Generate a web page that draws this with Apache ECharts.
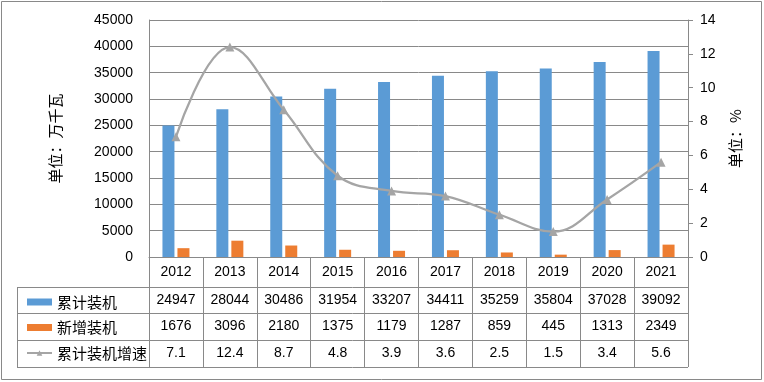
<!DOCTYPE html>
<html><head><meta charset="utf-8">
<script src="https://cdn.jsdelivr.net/npm/echarts@6/dist/echarts.min.js"></script>
<style>html,body{margin:0;padding:0;background:#fff}#c{width:764px;height:382px}</style>
</head><body><div id="c"></div>
<script>
const years = ['2012','2013','2014','2015','2016','2017','2018','2019','2020','2021'];
const cumulative = [24947,28044,30486,31954,33207,34411,35259,35804,37028,39092];
const added = [1676,3096,2180,1375,1179,1287,859,445,1313,2349];
const growth = [7.1,12.4,8.7,4.8,3.9,3.6,2.5,1.5,3.4,5.6];
const seriesNames = ['累计装机','新增装机','累计装机增速'];
const leftTicks = {min:0,max:45000,interval:5000};
const rightTicks = {min:0,max:14,interval:2};

const GRID = {left:149, right:76, top:20, bottom:125};
const numFont = 'Liberation Sans, Arial, sans-serif';
const cjkFont = 'Noto Sans CJK SC, sans-serif';
const lineCol = '#898989';
const rows = [30, 56, 83, 110]; // offsets of table row lines below x axis

function valueAxis(offset, arr){
  return {type:'category', data:years, position:'bottom', offset:offset, gridIndex:0,
    axisLine:{show:false}, axisTick:{show:false}, splitLine:{show:false},
    axisLabel:{show:true, margin:6, color:'#000', fontSize:14, fontFamily:numFont,
      formatter:(v,i)=>String(arr[i])}};
}

const chart = echarts.init(document.getElementById('c'), null, {renderer:'canvas'});
const H = 382, axisY = H - GRID.bottom, tableLeft = 17, tableRight = 764 - GRID.right;
const graphics = [{type:'rect', shape:{x:1.5,y:1.5,width:760,height:378}, style:{fill:'none', stroke:lineCol, lineWidth:1}}];
rows.forEach(o=>graphics.push({type:'line', shape:{x1:tableLeft,y1:axisY+o+0.5,x2:tableRight,y2:axisY+o+0.5}, style:{stroke:lineCol,lineWidth:1}}));
graphics.push({type:'line', shape:{x1:tableLeft+0.5,y1:axisY+rows[0],x2:tableLeft+0.5,y2:axisY+rows[3]}, style:{stroke:lineCol,lineWidth:1}});

chart.setOption({
  animation:false,
  backgroundColor:'#fff',
  grid:GRID,
  legend:{orient:'vertical', left:21, top:289, itemWidth:25, itemHeight:7, itemGap:9.5,
    textStyle:{fontSize:15, fontFamily:cjkFont, color:'#000', lineHeight:16},
    data:[{name:seriesNames[0], icon:'rect'},{name:seriesNames[1], icon:'rect'},{name:seriesNames[2]}]},
  xAxis:[
    {type:'category', data:years, position:'bottom', boundaryGap:true,
      axisLine:{show:true, lineStyle:{color:lineCol}},
      axisTick:{show:true, length:110, lineStyle:{color:lineCol}},
      axisLabel:{margin:8, color:'#000', fontSize:14, fontFamily:numFont}},
    valueAxis(rows[0], cumulative),
    valueAxis(rows[1], added),
    valueAxis(rows[2], growth.map(v=>v.toFixed(1)))
  ],
  yAxis:[
    {type:'value', min:leftTicks.min, max:leftTicks.max, interval:leftTicks.interval,
      name:'单位：万千瓦', nameLocation:'middle', nameRotate:90, nameGap:86,
      nameTextStyle:{fontSize:15, fontFamily:cjkFont, color:'#000'},
      axisLine:{show:true, lineStyle:{color:lineCol}}, axisTick:{show:false},
      axisLabel:{margin:16, color:'#000', fontSize:14, fontFamily:numFont, formatter:v=>String(v)},
      splitLine:{show:true, lineStyle:{color:lineCol, width:1}}},
    {type:'value', min:rightTicks.min, max:rightTicks.max, interval:rightTicks.interval, position:'right',
      name:'单位：%', nameLocation:'middle', nameRotate:90, nameGap:40,
      nameTextStyle:{fontSize:15, fontFamily:cjkFont, color:'#000'},
      axisLine:{show:true, lineStyle:{color:lineCol}},
      axisTick:{show:true, inside:false, length:5, lineStyle:{color:lineCol}},
      axisLabel:{margin:12, color:'#000', fontSize:14, fontFamily:numFont, formatter:v=>String(v)},
      splitLine:{show:false}}
  ],
  series:[
    {name:seriesNames[0], type:'bar', data:cumulative, barWidth:12, barGap:'25%', itemStyle:{color:'#5B9BD5'}},
    {name:seriesNames[1], type:'bar', data:added, barWidth:12, itemStyle:{color:'#ED7D31'}},
    {name:seriesNames[2], type:'line', yAxisIndex:1, data:growth, smooth:0.4,
      symbol:'triangle', symbolSize:9, lineStyle:{color:'#A5A5A5', width:2.25},
      itemStyle:{color:'#A5A5A5'}}
  ],
  graphic:graphics
});
</script></body></html>
